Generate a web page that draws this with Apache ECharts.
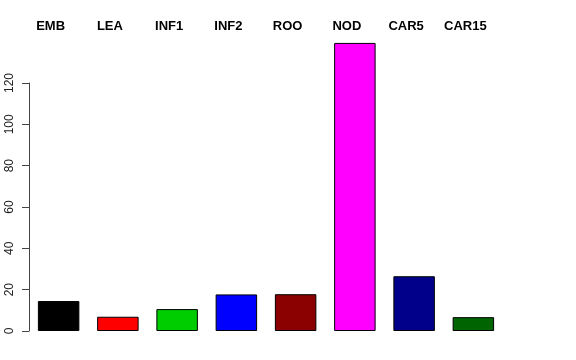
<!DOCTYPE html>
<html><head><meta charset="utf-8">
<script src="https://cdn.jsdelivr.net/npm/echarts@6/dist/echarts.min.js"></script>
<style>html,body{margin:0;padding:0;background:#fff}#c{width:576px;height:360px}</style>
</head><body><div id="c"></div>
<script>
const categories = ["EMB","LEA","INF1","INF2","ROO","NOD","CAR5","CAR15"];
const values = [14.5, 6.9, 10.6, 17.7, 17.8, 139.4, 26.5, 6.7];
const barColors = ["#000000","#FF0000","#00CD00","#0000FF","#8B0000","#FF00FF","#00008B","#006400"];
const yTicks = [0,20,40,60,80,100,120];

const chart = echarts.init(document.getElementById('c'), null, {renderer:'canvas'});
chart.setOption({
  animation:false,
  backgroundColor:'#ffffff',
  grid:{left:29, top:83, width:474, height:248, containLabel:false},
  xAxis:{
    type:'category', data:categories, position:'top',
    axisLine:{show:false}, axisTick:{show:false}, splitLine:{show:false},
    axisLabel:{margin:50, fontFamily:'Liberation Sans', fontWeight:'bold', fontSize:13, color:'#000', padding:[0,16,0,0], interval:0}
  },
  yAxis:{
    type:'value', min:yTicks[0], max:yTicks[yTicks.length-1], interval:20,
    axisLine:{show:true, lineStyle:{color:'#444', width:1}},
    axisTick:{show:true, length:7, lineStyle:{color:'#444'}},
    splitLine:{show:false},
    axisLabel:{rotate:90, margin:13, fontFamily:'Liberation Sans', fontSize:12, color:'#222'}
  },
  series:[{
    type:'bar', clip:false, barWidth:'70%',
    data: values.map((v,i)=>({value:v, itemStyle:{color:barColors[i]}})),
    itemStyle:{borderColor:'#000', borderWidth:1}
  }]
});
</script></body></html>
